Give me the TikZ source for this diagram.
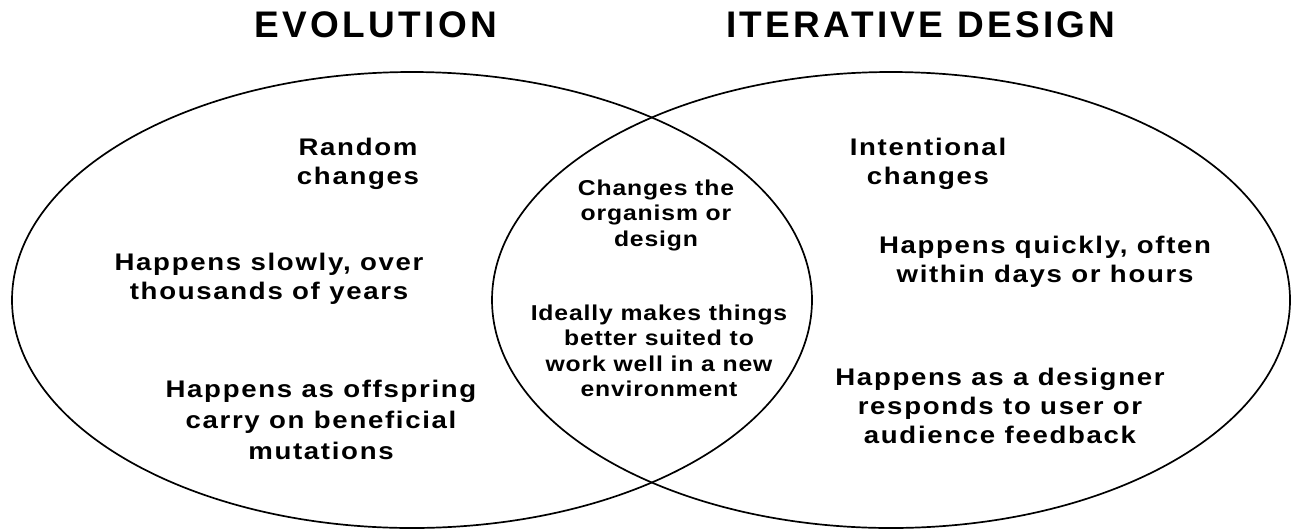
\documentclass[tikz,border=0pt]{standalone}
\usepackage{fontspec}
\usepackage{tikz}
\newfontfamily\headfont{Liberation Sans}[LetterSpace=9]
\newfontfamily\bodyfont{Liberation Sans}[LetterSpace=7,FakeStretch=1.15]
\newfontfamily\midfont{Liberation Sans}[LetterSpace=4,FakeStretch=1.15]

\begin{document}
\begin{tikzpicture}[x=1pt,y=-1pt,
  ring/.style={line width=1.7pt},
  head/.style={font=\headfont\bfseries\fontsize{37}{40}\selectfont, inner sep=0pt},
  txt/.style={font=\bodyfont\bfseries\fontsize{24}{29}\selectfont, align=center, inner sep=0pt},
  mid/.style={font=\midfont\bfseries\fontsize{21.5}{25.5}\selectfont, align=center, inner sep=0pt}]

\useasboundingbox (0,0) rectangle (1292,531);

% the two sets
\draw[ring] (412,300) ellipse [x radius=400pt, y radius=228pt];
\draw[ring] (891,300) ellipse [x radius=399pt, y radius=228pt];

\node[head] (evo) at (376,25) {EVOLUTION};
\node[head] (itd) at (921,25) {ITERATIVE DESIGN};

% left set
\node[txt] (rand) at (358,164) {Random\\changes};
\node[txt] (slow) at (269,279) {Happens slowly, over\\thousands of years};
\node[txt, font=\bodyfont\bfseries\fontsize{24}{31}\selectfont] (offs) at (321,420) {Happens as offspring\\carry on beneficial\\mutations};

% overlap
\node[mid] (chg) at (656,215) {Changes the\\organism or\\design};
\node[mid] (fit) at (659,351) {Ideally makes things\\better suited to\\work well in a new\\environment};

% right set
\node[txt] (intn) at (928,164) {Intentional\\changes};
\node[txt] (fast) at (1045,262) {Happens quickly, often\\within days or hours};
\node[txt] (user) at (1000,406) {Happens as a designer\\responds to user or\\audience feedback};
\end{tikzpicture}
\end{document}
